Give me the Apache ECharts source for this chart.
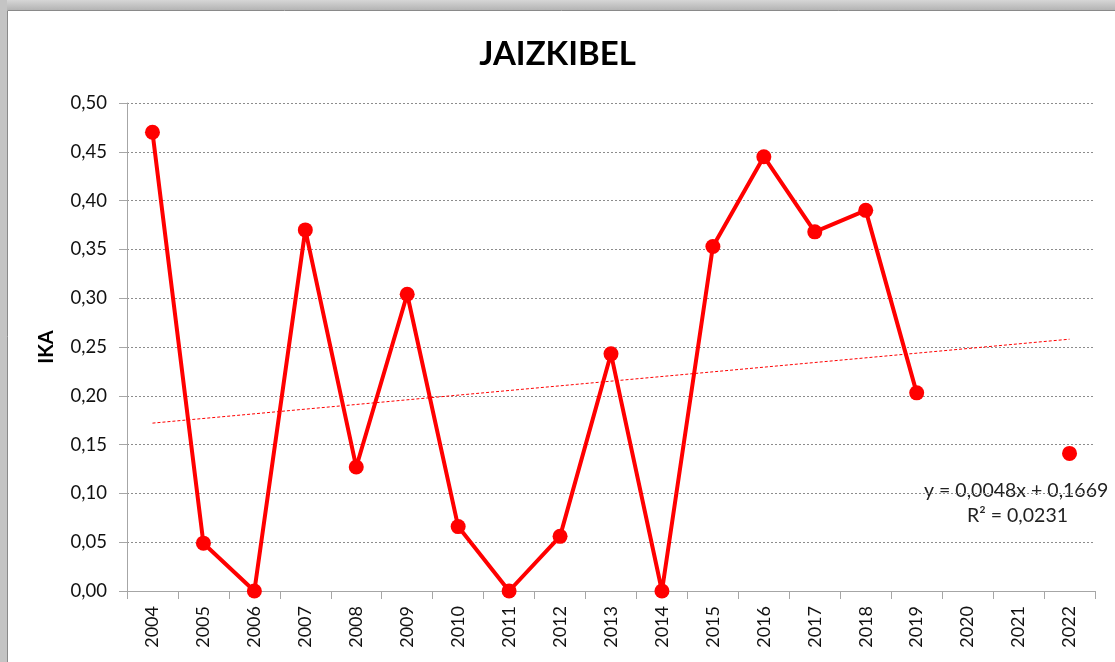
<!DOCTYPE html>
<html>
<head>
<meta charset="utf-8">
<script src="https://cdn.jsdelivr.net/npm/echarts@6/dist/echarts.min.js"></script>
<style>
  html, body { margin: 0; padding: 0; background: #fff; }
  #chart { width: 1115px; height: 662px; }
</style>
</head>
<body>
<div id="chart"></div>
<script>
var years = ['2004', '2005', '2006', '2007', '2008', '2009', '2010', '2011', '2012', '2013',
             '2014', '2015', '2016', '2017', '2018', '2019', '2020', '2021', '2022'];
var ikaValues = [0.470, 0.049, 0, 0.370, 0.127, 0.304, 0.066, 0, 0.056, 0.243,
                 0, 0.353, 0.445, 0.368, 0.390, 0.203, null, null, 0.141];
// linea de tendencia: solo los extremos (2004 y 2022)
var trendValues = [0.172, null, null, null, null, null, null, null, null, null,
                   null, null, null, null, null, null, null, null, 0.258];
var equationLines = ['y = 0,0048x + 0,1669', 'R² = 0,0231'];

var FONT = 'Lato, "Open Sans", sans-serif';
var chart = echarts.init(document.getElementById('chart'));

var option = {
    backgroundColor: '#ffffff',
    animation: false,
    title: {
        text: 'JAIZKIBEL',
        left: 'center',
        top: 33,
        textStyle: { fontFamily: FONT, fontSize: 33, fontWeight: 'bold', color: '#000' }
    },
    graphic: [
        {
            type: 'rect', left: 0, top: 0,
            shape: { width: 1115, height: 10 },
            style: {
                fill: new echarts.graphic.LinearGradient(0, 0, 0, 1, [
                    { offset: 0, color: '#d6d6d6' },
                    { offset: 1, color: '#b4b4b4' }
                ])
            },
            silent: true
        },
        {
            type: 'rect', left: 0, top: 0,
            shape: { width: 7, height: 662 },
            style: { fill: '#c4c4c4' },
            silent: true
        },
        {
            type: 'line',
            shape: { x1: 7.5, y1: 10.5, x2: 1115, y2: 10.5 },
            style: { stroke: '#8a8a8a', lineWidth: 1 },
            silent: true
        },
        {
            type: 'line',
            shape: { x1: 7.5, y1: 10.5, x2: 7.5, y2: 662 },
            style: { stroke: '#8a8a8a', lineWidth: 1 },
            silent: true
        },
        {
            type: 'text', left: 924, top: 481,
            style: { text: equationLines[0], font: '19.5px ' + FONT, fill: '#222' },
            silent: true
        },
        {
            type: 'text', left: 967, top: 506,
            style: { text: equationLines[1], font: '19.5px ' + FONT, fill: '#222' },
            silent: true
        }
    ],
    grid: {
        left: 127,
        right: 20,
        top: 103,
        bottom: 71
    },
    xAxis: {
        type: 'category',
        data: years,
        boundaryGap: true,
        axisLine: { lineStyle: { color: '#a6a6a6', width: 1 } },
        axisTick: { show: true, length: 8, alignWithLabel: false, lineStyle: { color: '#a6a6a6' } },
        axisLabel: {
            rotate: 90,
            margin: 15,
            fontFamily: FONT,
            fontSize: 18,
            color: '#111'
        },
        splitLine: { show: false }
    },
    yAxis: {
        type: 'value',
        min: 0,
        max: 0.5,
        interval: 0.05,
        name: 'IKA',
        nameLocation: 'middle',
        nameRotate: 90,
        nameGap: 70,
        nameTextStyle: { fontFamily: FONT, fontSize: 20, fontWeight: 'bold', color: '#000' },
        axisLine: { show: true, lineStyle: { color: '#a6a6a6', width: 1 } },
        axisTick: { show: true, length: 8, lineStyle: { color: '#a6a6a6' } },
        axisLabel: {
            margin: 20,
            fontFamily: FONT,
            fontSize: 18.5,
            color: '#111',
            formatter: function (v) {
                return v.toFixed(2).replace('.', ',');
            }
        },
        splitLine: { show: true, lineStyle: { color: '#8c8c8c', type: [2, 2], width: 1 } }
    },
    series: [
        {
            name: 'IKA',
            type: 'line',
            data: ikaValues,
            symbol: 'circle',
            symbolSize: 15,
            showAllSymbol: true,
            connectNulls: false,
            itemStyle: { color: '#ff0000' },
            lineStyle: { color: '#ff0000', width: 4 },
            z: 3
        },
        {
            name: 'Lineal (IKA)',
            type: 'line',
            data: trendValues,
            symbol: 'none',
            connectNulls: true,
            lineStyle: { color: '#ff0000', width: 1, type: [3, 2] },
            z: 2
        }
    ]
};

chart.setOption(option);
</script>
</body>
</html>
